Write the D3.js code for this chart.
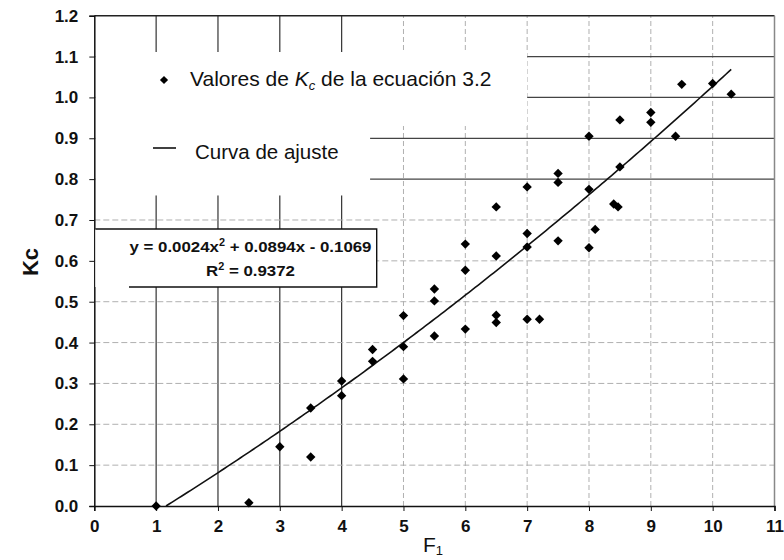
<!DOCTYPE html>
<html>
<head>
<meta charset="utf-8">
<script src="https://cdn.jsdelivr.net/npm/d3@7"></script>
<style>
  html, body { margin: 0; padding: 0; background: #fff; }
  svg { display: block; font-family: "Liberation Sans", Arial, sans-serif; }
</style>
</head>
<body>
<svg id="chart" width="784" height="560"></svg>
<script>
// Kc values computed with equation 3.2 against F1
const f1Values = [1, 2.5, 3, 3.5, 3.5, 4, 4, 4.5, 4.5, 5, 5, 5, 5.5, 5.5, 5.5,
  6, 6, 6, 6.5, 6.5, 6.5, 6.5, 7, 7, 7, 7, 7.2, 7.5, 7.5, 7.5,
  8, 8, 8, 8.1, 8.4, 8.47, 8.5, 8.5, 9, 9, 9.4, 9.5, 10, 10.3];
const kcValues = [0.0, 0.008, 0.145, 0.24, 0.12, 0.306, 0.27, 0.383, 0.354, 0.466, 0.39, 0.311, 0.531, 0.502, 0.416,
  0.641, 0.577, 0.433, 0.732, 0.612, 0.467, 0.449, 0.781, 0.667, 0.634, 0.457, 0.457, 0.814, 0.792, 0.649,
  0.905, 0.775, 0.632, 0.677, 0.739, 0.732, 0.945, 0.83, 0.963, 0.939, 0.905, 1.032, 1.034, 1.008];

// Quadratic fit: y = a x^2 + b x + c
const fitCoefficients = [0.0024, 0.0894, -0.1069];
const fitRange = [1.16, 10.3];
const r2Value = "0.9372";

const xTicks = [0, 1, 2, 3, 4, 5, 6, 7, 8, 9, 10, 11];
const yTicks = [0, 0.1, 0.2, 0.3, 0.4, 0.5, 0.6, 0.7, 0.8, 0.9, 1.0, 1.1, 1.2];

const svg = d3.select("#chart");
const plotLeft = 94.3, plotRight = 774.5, plotTop = 15.7, plotBottom = 506;

const x = d3.scaleLinear().domain([0, 11]).range([plotLeft, plotRight]);
const y = d3.scaleLinear().domain([0, 1.2]).range([plotBottom, plotTop]);

// Grid: light dotted lines, darker solid ones in the left columns and upper rows
const grid = svg.append("g");
grid.selectAll("line.vx").data(xTicks.filter(d => d > 0 && d < 11)).join("line")
  .attr("x1", d => x(d)).attr("x2", d => x(d))
  .attr("y1", y(0)).attr("y2", y(1.2))
  .attr("stroke", d => d <= 4 ? "#333" : "#b0b0b0")
  .attr("stroke-width", d => d <= 4 ? 1.2 : 1)
  .attr("stroke-dasharray", d => d <= 4 ? null : "5,3");
grid.selectAll("line.hy").data(yTicks.filter(d => d > 0 && d < 1.2)).join("line")
  .attr("x1", x(0)).attr("x2", x(11))
  .attr("y1", d => y(d)).attr("y2", d => y(d))
  .attr("stroke", d => d >= 0.75 ? "#444" : "#b0b0b0")
  .attr("stroke-width", d => d >= 0.75 ? 1.2 : 1)
  .attr("stroke-dasharray", d => d >= 0.75 ? null : "6,3");

// Legend background
svg.append("rect").attr("x", x(0) + 1).attr("y", 52).attr("width", x(7) - x(0) - 1).attr("height", y(0.93) - 52).attr("fill", "#fff");
svg.append("rect").attr("x", x(0) + 1).attr("y", y(0.95)).attr("width", x(4.46) - x(0) - 1).attr("height", y(0.76) - y(0.95)).attr("fill", "#fff");

// Plot frame
svg.append("line").attr("x1", plotLeft).attr("x2", plotRight).attr("y1", plotTop).attr("y2", plotTop).attr("stroke", "#222").attr("stroke-width", 1.5);
svg.append("line").attr("x1", plotRight).attr("x2", plotRight).attr("y1", plotTop).attr("y2", plotBottom).attr("stroke", "#888").attr("stroke-width", 1.5);

// Axes
const xAxis = d3.axisBottom(x).tickValues(xTicks).tickSize(5).tickFormat(d3.format("d"));
const yAxis = d3.axisLeft(y).tickValues(yTicks).tickSize(5).tickFormat(d3.format(".1f"));

const gx = svg.append("g").attr("transform", `translate(0,${plotBottom})`).call(xAxis);
gx.select(".domain").attr("stroke", "#111").attr("stroke-width", 1.5);
gx.selectAll(".tick line").attr("stroke", "#111");
gx.selectAll(".tick text").attr("font-family", "'Liberation Sans', Arial, sans-serif")
  .attr("font-size", 17).attr("font-weight", "bold").attr("fill", "#111").attr("y", 14);

const gy = svg.append("g").attr("transform", `translate(${plotLeft},0)`).call(yAxis);
gy.select(".domain").attr("stroke", "#111").attr("stroke-width", 1.5);
gy.selectAll(".tick line").attr("stroke", "#111");
gy.selectAll(".tick text").attr("font-family", "'Liberation Sans', Arial, sans-serif")
  .attr("font-size", 17).attr("font-weight", "bold").attr("fill", "#111").attr("x", -16);

// Axis titles
const xt = svg.append("text").attr("x", 423).attr("y", 552).attr("font-size", 21).attr("fill", "#111");
xt.append("tspan").text("F");
xt.append("tspan").attr("font-size", 13).attr("dy", 3).text("1");

svg.append("text").attr("transform", "translate(38,262) rotate(-90)")
  .attr("text-anchor", "middle").attr("font-size", 22).attr("font-weight", "bold").attr("fill", "#111").text("Kc");

// Equation box
const eqBox = svg.append("g");
const bx0 = x(0) + 1, bx1 = 376.7, by0 = 229, by1 = 287;
eqBox.append("rect").attr("x", bx0).attr("y", by0).attr("width", bx1 - bx0).attr("height", by1 - by0).attr("fill", "#fff");
eqBox.append("path").attr("d", `M${bx0},${by0}H${bx1}V${by1}H129`).attr("fill", "none").attr("stroke", "#111").attr("stroke-width", 1.4);
const fmtCoef = v => Math.abs(v).toFixed(4);
const eq1 = eqBox.append("text").attr("x", 250.5).attr("y", 252).attr("text-anchor", "middle")
  .attr("font-size", 15.5).attr("font-weight", "bold").attr("fill", "#111")
  .attr("textLength", 242).attr("lengthAdjust", "spacingAndGlyphs");
eq1.append("tspan").text(`y = ${fmtCoef(fitCoefficients[0])}x`);
eq1.append("tspan").attr("font-size", 10).attr("dy", -6).text("2");
eq1.append("tspan").attr("dy", 6).text(` + ${fmtCoef(fitCoefficients[1])}x ${fitCoefficients[2] < 0 ? "-" : "+"} ${fmtCoef(fitCoefficients[2])}`);
const eq2 = eqBox.append("text").attr("x", 250.5).attr("y", 276).attr("text-anchor", "middle")
  .attr("font-size", 15.5).attr("font-weight", "bold").attr("fill", "#111")
  .attr("textLength", 89).attr("lengthAdjust", "spacingAndGlyphs");
eq2.append("tspan").text("R");
eq2.append("tspan").attr("font-size", 10).attr("dy", -6).text("2");
eq2.append("tspan").attr("dy", 6).text(` = ${r2Value}`);

// Fitted curve
const fit = v => fitCoefficients[0] * v * v + fitCoefficients[1] * v + fitCoefficients[2];
const curvePts = d3.range(fitRange[0], fitRange[1] + 1e-9, 0.05).map(v => [v, fit(v)]);
curvePts.push([fitRange[1], fit(fitRange[1])]);
svg.append("path").datum(curvePts)
  .attr("d", d3.line().x(d => x(d[0])).y(d => y(d[1])))
  .attr("fill", "none").attr("stroke", "#111").attr("stroke-width", 1.6);

// Data points
const diamond = d3.symbol(d3.symbolSquare, 44);
svg.append("g").selectAll("path").data(f1Values.map((f, i) => [f, kcValues[i]])).join("path")
  .attr("d", diamond)
  .attr("transform", d => `translate(${x(d[0])},${y(d[1])}) rotate(45)`)
  .attr("fill", "#000");

// Legend
svg.append("path").attr("d", d3.symbol(d3.symbolSquare, 34))
  .attr("transform", "translate(164,80) rotate(45)").attr("fill", "#000");
const lt = svg.append("text").attr("x", 190).attr("y", 86).attr("font-size", 21).attr("fill", "#111");
lt.append("tspan").text("Valores de ");
lt.append("tspan").attr("font-style", "italic").text("K");
lt.append("tspan").attr("font-style", "italic").attr("font-size", 13).attr("dy", 4).text("c");
lt.append("tspan").attr("dy", -4).text(" de la ecuación 3.2");

svg.append("line").attr("x1", 153).attr("x2", 176).attr("y1", 148).attr("y2", 148).attr("stroke", "#111").attr("stroke-width", 1.6);
svg.append("text").attr("x", 195).attr("y", 159).attr("font-size", 20.5).attr("fill", "#111").text("Curva de ajuste");
</script>
</body>
</html>
